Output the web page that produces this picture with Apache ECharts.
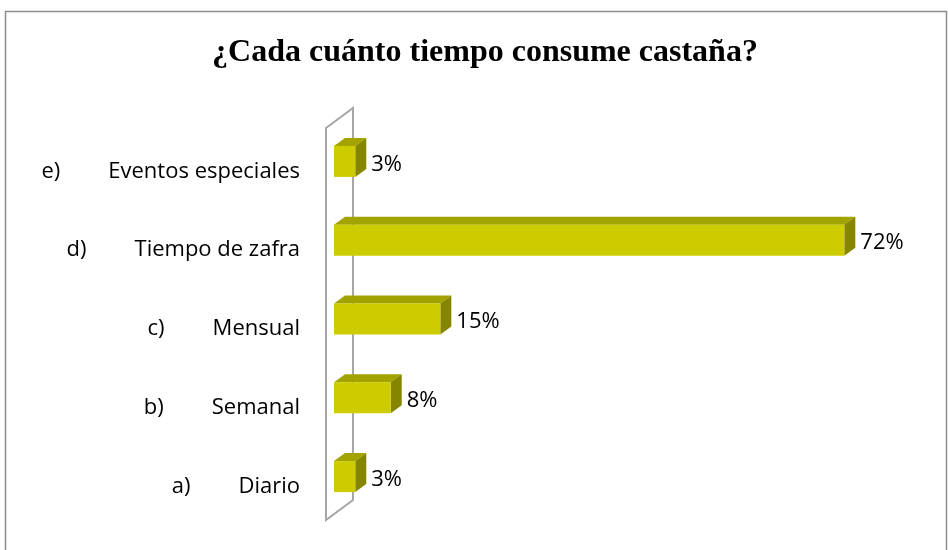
<!DOCTYPE html>
<html>
<head>
<meta charset="utf-8">
<script src="https://cdn.jsdelivr.net/npm/echarts@6/dist/echarts.min.js"></script>
<style>
  html, body { margin: 0; padding: 0; background: #fff; }
  #chart { width: 948px; height: 550px; }
</style>
</head>
<body>
<div id="chart"></div>
<script>
// bottom to top, as the category axis draws them
const prefixes = ['a)', 'b)', 'c)', 'd)', 'e)']
const categories = ['Diario', 'Semanal', 'Mensual', 'Tiempo de zafra', 'Eventos especiales']
const values = [3, 8, 15, 72, 3]

const gridLeft = 334
const gridTop = 122
const gridBottom = 34
const depthX = 11
const depthY = 8
const barH = 31

const chart = echarts.init(document.getElementById('chart'))

function renderBar(params, api) {
  const idx = api.value(1)
  const start = api.coord([0, idx])
  const end = api.coord([api.value(0), idx])
  const x0 = start[0]
  const x1 = end[0]
  const y0 = start[1] - barH / 2
  const y1 = start[1] + barH / 2
  return {
    type: 'group',
    children: [
      {
        type: 'polygon',
        shape: { points: [[x0, y0], [x0 + depthX, y0 - depthY], [x1 + depthX, y0 - depthY], [x1, y0]] },
        style: { fill: '#a3a300' }
      },
      {
        type: 'polygon',
        shape: { points: [[x1, y0], [x1 + depthX, y0 - depthY], [x1 + depthX, y1 - depthY], [x1, y1]] },
        style: { fill: '#858500' }
      },
      {
        type: 'rect',
        shape: { x: x0, y: y0, width: x1 - x0, height: y1 - y0 },
        style: { fill: '#cccc00' }
      },
      {
        type: 'text',
        x: x1 + depthX + 5,
        y: start[1] + 3,
        style: {
          text: api.value(0) + '%',
          fill: '#000',
          font: '22px "Open Sans"',
          verticalAlign: 'middle',
          align: 'left'
        }
      }
    ]
  }
}

chart.setOption({
  animation: false,
  title: {
    text: '¿Cada cuánto tiempo consume castaña?',
    left: 480,
    textAlign: 'center',
    top: 32,
    textStyle: {
      fontFamily: 'Liberation Serif',
      fontWeight: 'bold',
      fontSize: 32,
      color: '#000'
    }
  },
  grid: {
    left: gridLeft,
    right: 47,
    top: gridTop,
    bottom: gridBottom
  },
  xAxis: {
    type: 'value',
    min: 0,
    max: 80,
    show: false
  },
  yAxis: {
    type: 'category',
    data: categories,
    axisLine: { show: false },
    axisTick: { show: false },
    axisLabel: {
      margin: 34,
      formatter: function (v, i) {
        return '{p|' + prefixes[i] + '}{g|}{t|' + v + '}'
      },
      rich: {
        p: { fontFamily: 'Open Sans', fontSize: 22, color: '#000', padding: [20, 0, 0, 0] },
        g: { width: 48 },
        t: { fontFamily: 'Open Sans', fontSize: 22, color: '#000', padding: [20, 0, 0, 0] }
      }
    }
  },
  graphic: [
    {
      type: 'rect',
      shape: { x: 5.5, y: 11.5, width: 941, height: 560 },
      style: { fill: 'none', stroke: '#8c8c8c', lineWidth: 1.5 },
      silent: true
    },
    {
      type: 'polygon',
      shape: { points: [[326, 128], [353, 108], [353, 500], [326, 520]] },
      style: { fill: 'none', stroke: '#a6a6a6', lineWidth: 2 },
      silent: true
    }
  ],
  series: [
    {
      type: 'custom',
      renderItem: renderBar,
      encode: { x: 0, y: 1 },
      data: values.map((v, i) => [v, i])
    }
  ]
})
</script>
</body>
</html>
